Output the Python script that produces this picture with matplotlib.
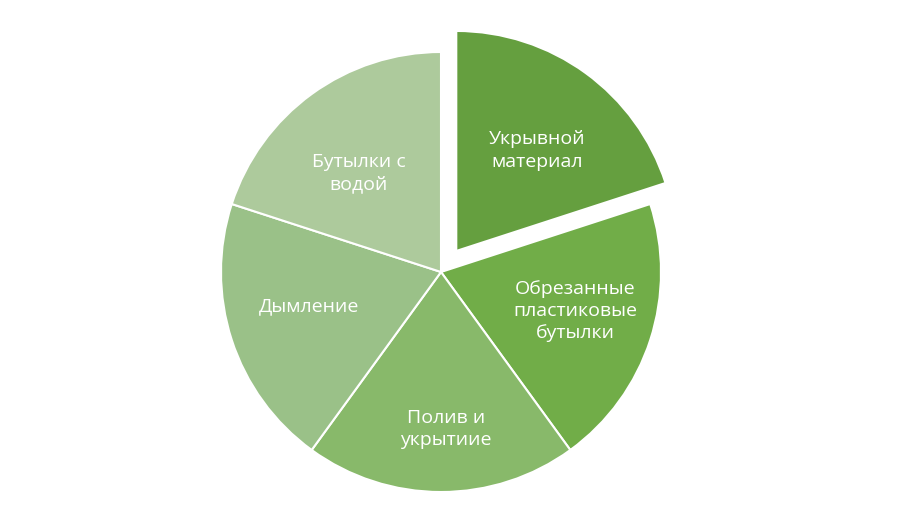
import matplotlib.pyplot as plt

plt.rcParams['font.family'] = ['Open Sans', 'DejaVu Sans']

labels = ['Укрывной\nматериал', 'Обрезанные\nпластиковые\nбутылки', 'Полив и\nукрытиие',
          'Дымление', 'Бутылки с\nводой']
values = [1, 1, 1, 1, 1]
colors = ['#659F3F', '#71AD48', '#88B96A', '#9AC188', '#ADCA9C']
explode = [26, 0, 0, 0, 0]
# small label nudges (pixels) to mimic the original label placement
nudge = [(-5, -17), (-4, 6), (5, -12), (6, 11), (3, -19)]

fig = plt.figure(figsize=(9, 5.25), dpi=100)
ax = fig.add_axes([0, 0, 1, 1])

wedges, texts = ax.pie(values, labels=labels, colors=colors, explode=explode,
                       startangle=90, counterclock=False, radius=220,
                       center=(441, 253), labeldistance=0.66,
                       wedgeprops=dict(edgecolor='white', linewidth=1.5),
                       textprops=dict(color='white', fontsize=14, ha='center', va='center',
                                      linespacing=1.3))
for t, (dx, dy) in zip(texts, nudge):
    x, y = t.get_position()
    t.set_position((x + dx, y + dy))

ax.set_xlim(0, 900)
ax.set_ylim(0, 525)
ax.set_aspect('equal')
ax.axis('off')

fig.savefig('out.png', dpi=100)
